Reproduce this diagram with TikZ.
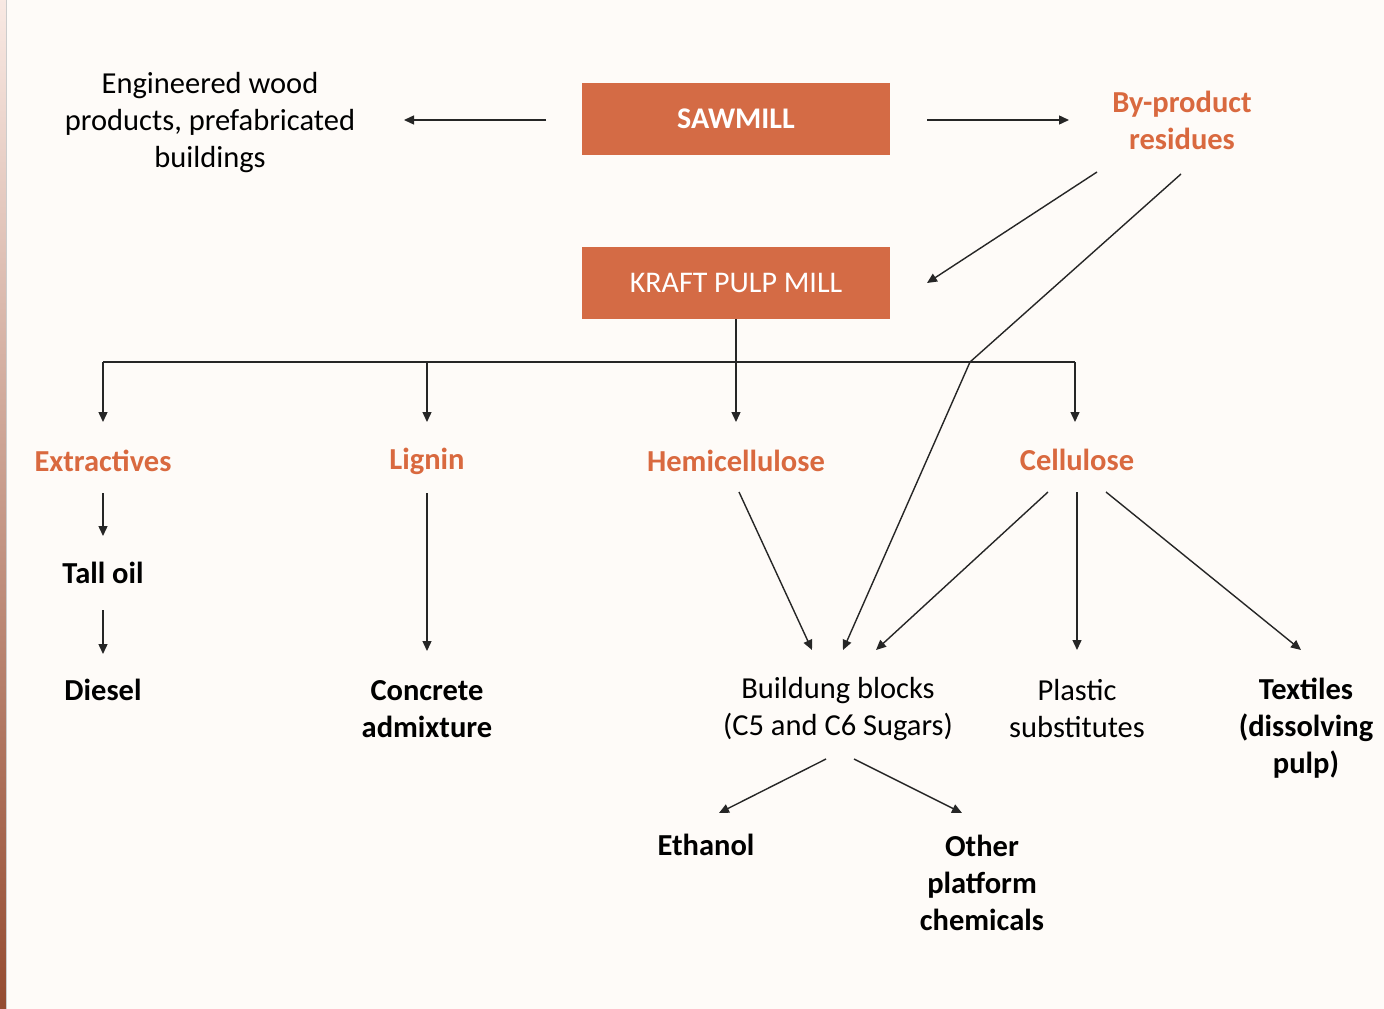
\documentclass[tikz,border=0pt]{standalone}
\usepackage{fontspec}
\setmainfont{Carlito}
\usetikzlibrary{arrows.meta}
\definecolor{bgc}{HTML}{FEFBF8}
\definecolor{orng}{HTML}{D46B45}
\definecolor{otxt}{HTML}{D9693F}
\definecolor{lnc}{HTML}{262626}
\tikzset{
  box/.style={fill=orng, draw=none, minimum width=308pt, minimum height=72pt, text=white, font=\fontsize{30}{37}\selectfont, inner sep=0pt},
  lbl/.style={align=center, font=\fontsize{30.5}{37}\selectfont, inner sep=0pt, text=black},
  olbl/.style={lbl, text=otxt, font=\fontsize{30.5}{37}\selectfont\bfseries},
  blbl/.style={lbl, font=\fontsize{30.5}{37}\selectfont\bfseries},
  arr/.style={draw=lnc, line width=1.4pt, -{Triangle[length=10pt,width=9pt]}},
  ln/.style={draw=lnc, line width=1.4pt},
}
\begin{document}
\begin{tikzpicture}[x=1pt,y=-1pt]
\fill[bgc] (0,0) rectangle (1384,1009);
\useasboundingbox (0,0) rectangle (1384,1009);
\shade[top color=orng!15, middle color=orng!45, bottom color=orng!70!black] (0,0) rectangle (6,1009);
\draw[gray!40, line width=1pt] (6.5,0) -- (6.5,1009);

\node[box, font=\fontsize{30}{37}\selectfont\bfseries] (saw) at (736,119) {SAWMILL};
\node[box] (kraft) at (736,283) {KRAFT PULP MILL};

\node[lbl] (eng) at (210,123) {Engineered wood\\products, prefabricated\\buildings};
\node[olbl] (byp) at (1182,120) {By-product\\residues};

\coordinate (a1s) at (546,120); \coordinate (a1e) at (404,120);
\draw[arr] (a1s) -- (a1e);
\coordinate (a2s) at (927,120); \coordinate (a2e) at (1069,120);
\draw[arr] (a2s) -- (a2e);

\coordinate (b1s) at (1097,172); \coordinate (b1e) at (927,283);
\draw[arr] (b1s) -- (b1e);
\coordinate (b2s) at (1181,174); \coordinate (b2m) at (970,362); \coordinate (b2e) at (843,650);
\draw[arr] (b2s) -- (b2m) -- (b2e);

\node[olbl] (ext) at (103,461) {Extractives};
\node[olbl] (lig) at (427,461) {Lignin};
\node[olbl] (hem) at (736,461) {Hemicellulose};
\node[olbl] (cel) at (1077,460) {Cellulose};

\coordinate (h0) at (103,362); \coordinate (h1) at (427,362);
\coordinate (h2) at (736,362); \coordinate (h3) at (1075,362);
\draw[ln] (h0) -- (h3);
\draw[arr] (kraft.south) -- (736,422);
\draw[arr] (h0) -- (103,422);
\draw[arr] (h1) -- (427,422);
\draw[arr] (h3) -- (1075,422);

\node[blbl] (tall) at (103,573) {Tall oil};
\node[blbl] (dies) at (103,690) {Diesel};
\draw[arr] (103,493) -- (103,536);
\draw[arr] (103,610) -- (103,654);

\node[blbl] (conc) at (427,709) {Concrete\\admixture};
\draw[arr] (427,493) -- (427,651);

\node[lbl] (bb) at (838,709) {Buildung blocks\\(C5 and C6 Sugars)};
\node[lbl] (plas) at (1077,709) {Plastic\\substitutes};
\node[blbl] (tex) at (1306,728) {Textiles\\(dissolving\\pulp)};

\draw[arr] (739,492) -- (812,650);
\draw[arr] (1048,492) -- (876,650);
\draw[arr] (1077,492) -- (1077,650);
\draw[arr] (1106,492) -- (1301,650);

\node[blbl] (eth) at (706,845) {Ethanol};
\node[blbl] (oth) at (982,883) {Other\\platform\\chemicals};
\draw[arr] (826,759) -- (719,813);
\draw[arr] (854,759) -- (962,813);
\end{tikzpicture}
\end{document}
